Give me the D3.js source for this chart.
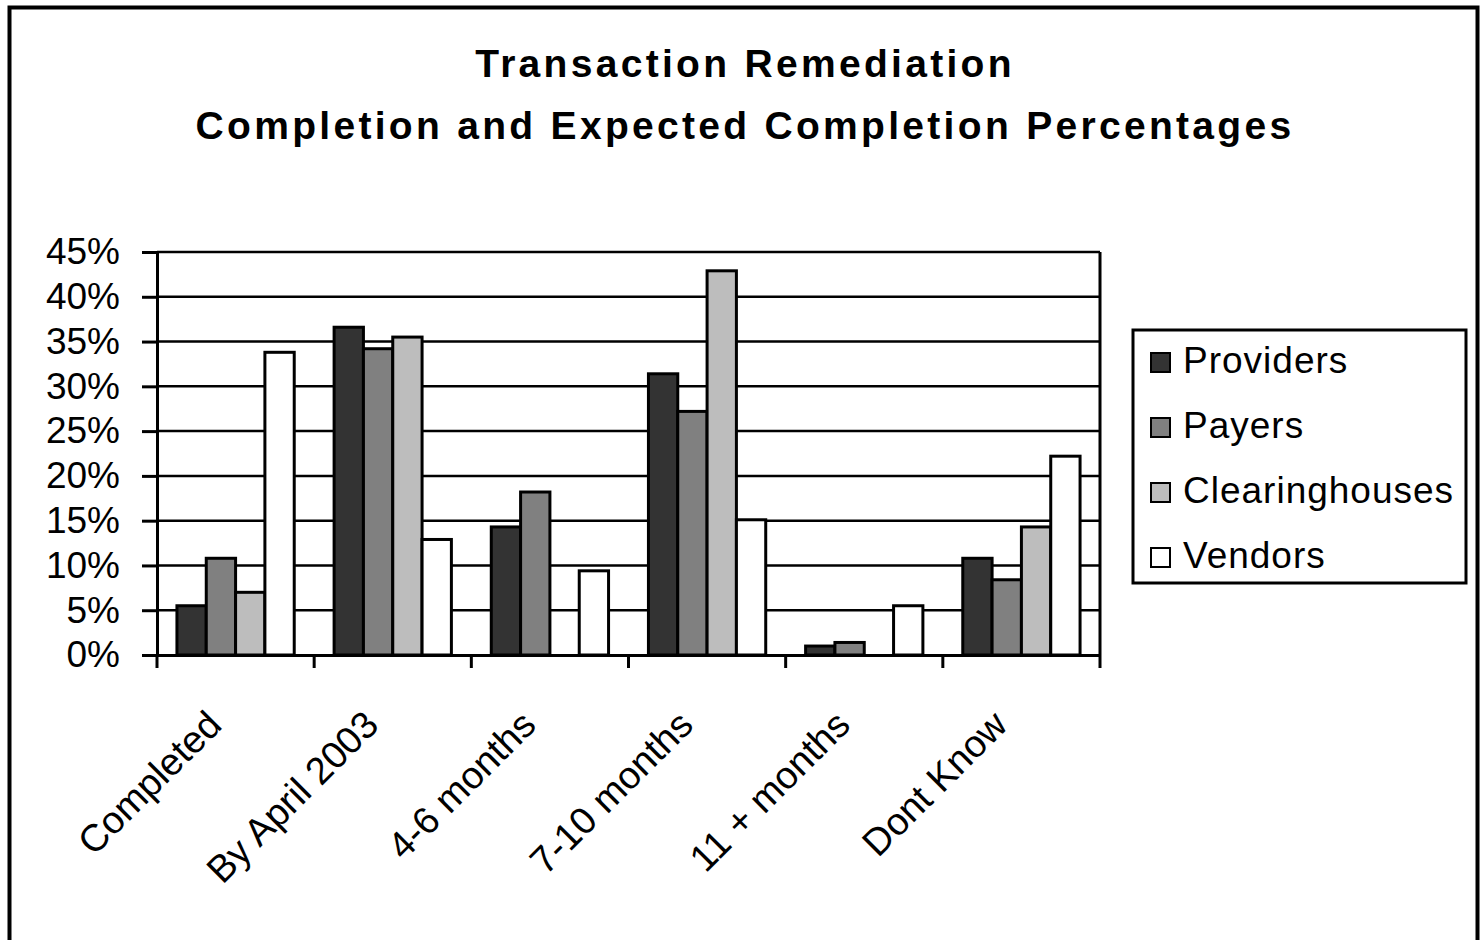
<!DOCTYPE html>
<html>
<head>
<meta charset="utf-8">
<script src="https://cdn.jsdelivr.net/npm/d3@7"></script>
<style>
  body { margin: 0; background: #fff; }
  text { font-family: "Liberation Sans", Arial, sans-serif; fill: #000; }
</style>
</head>
<body>
<svg id="chart"></svg>
<script>
// data (percent)
const categories = ["Completed", "By April 2003", "4-6 months", "7-10 months", "11 + months", "Dont Know"];
const seriesNames = ["Providers", "Payers", "Clearinghouses", "Vendors"];
const providers = [5.5, 36.6, 14.3, 31.4, 1.0, 10.8];
const payers = [10.8, 34.2, 18.2, 27.2, 1.4, 8.4];
const clearinghouses = [7.0, 35.5, 0, 42.9, 0, 14.3];
const vendors = [33.8, 12.9, 9.4, 15.1, 5.5, 22.2];
const yTicks = [0, 5, 10, 15, 20, 25, 30, 35, 40, 45];
const colors = ["#333333", "#808080", "#bdbdbd", "#ffffff"];

var w = 1480;
var h = 940;
var svg = d3.select("#chart")
    .attr("width", w)
    .attr("height", h);

// outer frame (bottom edge runs off the picture)
svg.append("rect")
    .attr("x", 9.5).attr("y", 7.5)
    .attr("width", 1468).attr("height", 1000)
    .attr("fill", "white")
    .attr("stroke", "black")
    .attr("stroke-width", 4);

// title
var title = svg.append("text")
    .attr("text-anchor", "middle")
    .style("font-weight", "bold")
    .style("font-size", "39px")
    .style("letter-spacing", "3.3px");
title.append("tspan").attr("x", 745).attr("y", 77).text("Transaction Remediation");
title.append("tspan").attr("x", 745).attr("y", 139).text("Completion and Expected Completion Percentages");

const plot = { left: 157, right: 1100, top: 252, bottom: 655 };

var x0 = d3.scaleBand()
    .domain(categories)
    .range([plot.left, plot.right])
    .padding(0);
var x1 = d3.scaleBand()
    .domain(seriesNames)
    .range([0, x0.bandwidth()])
    .paddingInner(0)
    .paddingOuter(0.68);
var y = d3.scaleLinear()
    .domain([0, 45])
    .range([plot.bottom, plot.top]);

// gridlines
svg.append("g")
    .selectAll("line")
    .data(yTicks.slice(1))
    .enter()
    .append("line")
    .attr("x1", plot.left).attr("x2", plot.right)
    .attr("y1", (d) => y(d)).attr("y2", (d) => y(d))
    .attr("stroke", "black")
    .attr("stroke-width", 2.5);

// right border of plot area
svg.append("line")
    .attr("x1", plot.right).attr("x2", plot.right)
    .attr("y1", plot.top).attr("y2", plot.bottom)
    .attr("stroke", "black")
    .attr("stroke-width", 3);

// bars
const table = categories.map((c, i) => ({
    category: c,
    values: [providers[i], payers[i], clearinghouses[i], vendors[i]]
}));

var group = svg.append("g")
    .selectAll("g")
    .data(table)
    .enter()
    .append("g")
    .attr("transform", (d) => "translate(" + x0(d.category) + ",0)");

group.selectAll("rect")
    .data((d) => d.values.map((v, i) => ({ name: seriesNames[i], value: v, i: i })))
    .enter()
    .filter((d) => d.value > 0)
    .append("rect")
    .attr("x", (d) => x1(d.name))
    .attr("y", (d) => y(d.value))
    .attr("width", x1.bandwidth())
    .attr("height", (d) => y(0) - y(d.value))
    .attr("fill", (d) => colors[d.i])
    .attr("stroke", "black")
    .attr("stroke-width", 3);

// y axis
var yAxis = d3.axisLeft(y)
    .tickValues(yTicks)
    .tickSize(15)
    .tickPadding(22)
    .tickFormat((d) => d + "%");
var gy = svg.append("g")
    .attr("transform", "translate(" + plot.left + ",0)")
    .call(yAxis);
gy.select(".domain").attr("stroke-width", 3);
gy.selectAll(".tick line").attr("stroke-width", 3);
gy.selectAll(".tick text")
    .style("font-size", "37px")
    .style("font-family", "'Liberation Sans', Arial, sans-serif");

// x axis: ticks between categories
var xAxis = d3.axisBottom(x0).tickSize(0).tickFormat("");
var gx = svg.append("g")
    .attr("transform", "translate(0," + plot.bottom + ")")
    .call(xAxis);
gx.select(".domain").attr("stroke-width", 3);
gx.selectAll(".tick").remove();

gx.selectAll(".sep")
    .data(categories.concat(["end"]))
    .enter()
    .append("line")
    .attr("class", "sep")
    .attr("x1", (d, i) => plot.left + i * x0.step())
    .attr("x2", (d, i) => plot.left + i * x0.step())
    .attr("y1", 0).attr("y2", 13)
    .attr("stroke", "black")
    .attr("stroke-width", 3);

svg.append("g")
    .selectAll("text")
    .data(categories)
    .enter()
    .append("text")
    .attr("text-anchor", "end")
    .style("font-size", "38px")
    .attr("transform", (d) => "translate(" + (x0(d) + x0.bandwidth() / 2 - 12) + "," + (plot.bottom + 72) + ") rotate(-45)")
    .text((d) => d);

// legend
var legend = svg.append("g");
legend.append("rect")
    .attr("x", 1133).attr("y", 330)
    .attr("width", 333).attr("height", 253)
    .attr("fill", "white")
    .attr("stroke", "black")
    .attr("stroke-width", 3);

var item = legend.selectAll(".legend-item")
    .data(seriesNames)
    .enter()
    .append("g")
    .attr("class", "legend-item")
    .attr("transform", (d, i) => "translate(1150," + (373 + i * 65) + ")");

item.append("rect")
    .attr("x", 1).attr("y", -20)
    .attr("width", 19).attr("height", 19)
    .attr("fill", (d, i) => colors[i])
    .attr("stroke", "black")
    .attr("stroke-width", 2);

item.append("text")
    .attr("x", 33)
    .attr("y", 0)
    .style("font-size", "37px")
    .style("letter-spacing", "1px")
    .text((d) => d);
</script>
</body>
</html>
